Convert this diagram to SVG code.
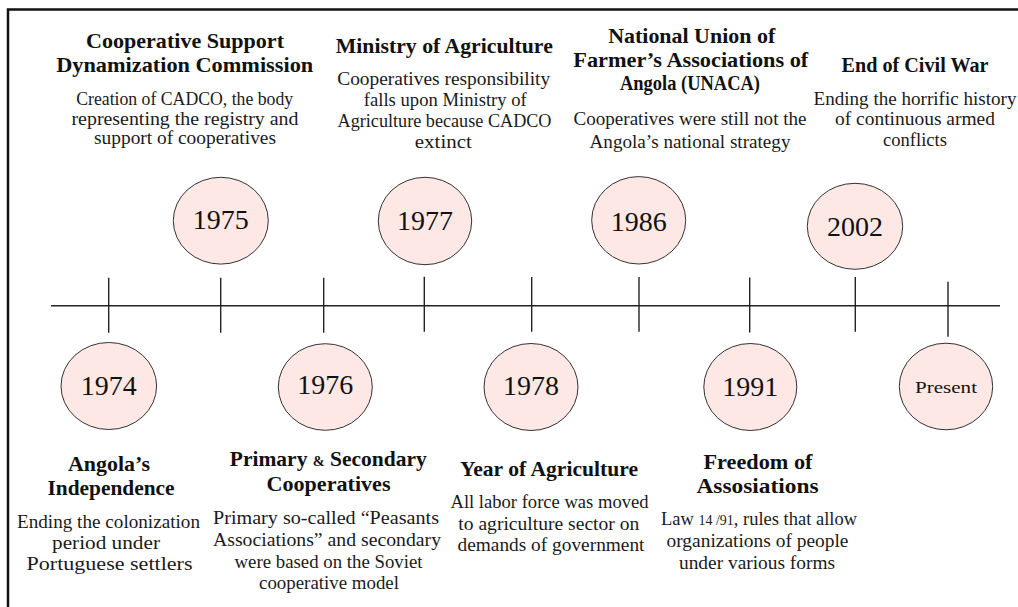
<svg xmlns="http://www.w3.org/2000/svg" width="1018" height="607" viewBox="0 0 1018 607">
<style>
  .bg { fill: #ffffff; }
  .frame { stroke: #111; stroke-width: 2.5; fill: none; }
  .axis { stroke: #222; stroke-width: 1.4; fill: none; }
  .tick { stroke: #222; stroke-width: 1.4; }
  .bubble { fill: #fde8e6; stroke: #333; stroke-width: 1; }
  .year { font-family: "Liberation Serif", "Times New Roman", serif; font-size: 28px; fill: #111; text-anchor: middle; }
  .head { font-family: "Liberation Serif", "Times New Roman", serif; font-size: 21px; font-weight: bold; fill: #111; text-anchor: middle; }
  .body { font-family: "Liberation Serif", "Times New Roman", serif; font-size: 18.5px; fill: #1a1a1a; text-anchor: middle; }
  .small { font-size: 14px; }
</style>
<rect class="bg" x="0" y="0" width="1018" height="607"/>
<path class="frame" d="M8 607 V9.5 H1018"/>

<g id="connectors">
  <line class="axis" x1="51" y1="305.7" x2="1000" y2="305.7"/>
  <line class="tick" x1="108.7" y1="277.7" x2="108.7" y2="332.7"/>
  <line class="tick" x1="220.7" y1="277.7" x2="220.7" y2="332.7"/>
  <line class="tick" x1="323.7" y1="277.7" x2="323.7" y2="332.7"/>
  <line class="tick" x1="424.3" y1="276.7" x2="424.3" y2="331.7"/>
  <line class="tick" x1="531.7" y1="277" x2="531.7" y2="331.7"/>
  <line class="tick" x1="639" y1="277" x2="639" y2="331.7"/>
  <line class="tick" x1="749.7" y1="277.5" x2="749.7" y2="332.5"/>
  <line class="tick" x1="855.3" y1="277" x2="855.3" y2="331.7"/>
  <line class="tick" x1="948" y1="281.7" x2="948" y2="336.7"/>
</g>

<g id="node-1974">
  <ellipse class="bubble" cx="108.8" cy="386" rx="47.8" ry="43.5"/>
  <text class="year" x="108.8" y="395">1974</text>
  <text class="head" x="109" y="470.5" textLength="82" lengthAdjust="spacingAndGlyphs">Angola’s</text>
  <text class="head" x="111" y="494.5" textLength="127" lengthAdjust="spacingAndGlyphs">Independence</text>
  <text class="body" x="108.5" y="527.5" textLength="183" lengthAdjust="spacingAndGlyphs">Ending the colonization</text>
  <text class="body" x="106" y="548.5" textLength="108" lengthAdjust="spacingAndGlyphs">period under</text>
  <text class="body" x="109.5" y="569.5" textLength="166" lengthAdjust="spacingAndGlyphs">Portuguese settlers</text>
</g>

<g id="node-1975">
  <ellipse class="bubble" cx="220.8" cy="220.7" rx="47.5" ry="43.4"/>
  <text class="year" x="220.8" y="229">1975</text>
  <text class="head" x="185" y="48" textLength="198" lengthAdjust="spacingAndGlyphs">Cooperative Support</text>
  <text class="head" x="184.7" y="71.5" textLength="257" lengthAdjust="spacingAndGlyphs">Dynamization Commission</text>
  <text class="body" x="184.7" y="105" textLength="217" lengthAdjust="spacingAndGlyphs">Creation of CADCO, the body</text>
  <text class="body" x="185" y="124.5" textLength="227" lengthAdjust="spacingAndGlyphs">representing the registry and</text>
  <text class="body" x="185" y="144" textLength="182" lengthAdjust="spacingAndGlyphs">support of cooperatives</text>
</g>

<g id="node-1976">
  <ellipse class="bubble" cx="325.3" cy="387" rx="47" ry="43.3"/>
  <text class="year" x="325.3" y="393.5">1976</text>
  <text class="head" x="328.3" y="465.5" textLength="197" lengthAdjust="spacingAndGlyphs">Primary <tspan class="small">&amp;</tspan> Secondary</text>
  <text class="head" x="328.5" y="490.5" textLength="124" lengthAdjust="spacingAndGlyphs">Cooperatives</text>
  <text class="body" x="326" y="523.5" textLength="226" lengthAdjust="spacingAndGlyphs">Primary so-called “Peasants</text>
  <text class="body" x="327" y="545.5" textLength="228" lengthAdjust="spacingAndGlyphs">Associations” and secondary</text>
  <text class="body" x="328.5" y="567.5" textLength="188" lengthAdjust="spacingAndGlyphs">were based on the Soviet</text>
  <text class="body" x="329" y="588.5" textLength="140" lengthAdjust="spacingAndGlyphs">cooperative model</text>
</g>

<g id="node-1977">
  <ellipse class="bubble" cx="425" cy="221" rx="46.7" ry="43.7"/>
  <text class="year" x="425" y="229.5">1977</text>
  <text class="head" x="444.3" y="52.5" textLength="217" lengthAdjust="spacingAndGlyphs">Ministry of Agriculture</text>
  <text class="body" x="443.7" y="84.5" textLength="213" lengthAdjust="spacingAndGlyphs">Cooperatives responsibility</text>
  <text class="body" x="445.3" y="105.5" textLength="163" lengthAdjust="spacingAndGlyphs">falls upon Ministry of</text>
  <text class="body" x="444.5" y="127" textLength="214" lengthAdjust="spacingAndGlyphs">Agriculture because CADCO</text>
  <text class="body" x="443.3" y="148" textLength="57" lengthAdjust="spacingAndGlyphs">extinct</text>
</g>

<g id="node-1978">
  <ellipse class="bubble" cx="531" cy="387" rx="47" ry="43.5"/>
  <text class="year" x="531" y="395">1978</text>
  <text class="head" x="549" y="475.5" textLength="178" lengthAdjust="spacingAndGlyphs">Year of Agriculture</text>
  <text class="body" x="549.5" y="507.5" textLength="198" lengthAdjust="spacingAndGlyphs">All labor force was moved</text>
  <text class="body" x="548.8" y="529.5" textLength="181" lengthAdjust="spacingAndGlyphs">to agriculture sector on</text>
  <text class="body" x="551" y="550.5" textLength="187" lengthAdjust="spacingAndGlyphs">demands of government</text>
</g>

<g id="node-1986">
  <ellipse class="bubble" cx="638.7" cy="220.3" rx="47" ry="43.7"/>
  <text class="year" x="638.7" y="231">1986</text>
  <text class="head" x="691.7" y="43" textLength="167" lengthAdjust="spacingAndGlyphs">National Union of</text>
  <text class="head" x="690.8" y="66.5" textLength="235" lengthAdjust="spacingAndGlyphs">Farmer’s Associations of</text>
  <text class="head" x="690" y="90" textLength="140" lengthAdjust="spacingAndGlyphs">Angola (UNACA)</text>
  <text class="body" x="690" y="125" textLength="233" lengthAdjust="spacingAndGlyphs">Cooperatives were still not the</text>
  <text class="body" x="690" y="147.5" textLength="201" lengthAdjust="spacingAndGlyphs">Angola’s national strategy</text>
</g>

<g id="node-1991">
  <ellipse class="bubble" cx="750.3" cy="387" rx="46.5" ry="43.5"/>
  <text class="year" x="750.3" y="396">1991</text>
  <text class="head" x="758" y="468.5" textLength="109" lengthAdjust="spacingAndGlyphs">Freedom of</text>
  <text class="head" x="757.5" y="492.5" textLength="122" lengthAdjust="spacingAndGlyphs">Assosiations</text>
  <text class="body" x="759" y="524.5" textLength="196" lengthAdjust="spacingAndGlyphs">Law <tspan class="small">14 /91</tspan>, rules that allow</text>
  <text class="body" x="757.5" y="546.5" textLength="182" lengthAdjust="spacingAndGlyphs">organizations of people</text>
  <text class="body" x="757" y="568.5" textLength="156" lengthAdjust="spacingAndGlyphs">under various forms</text>
</g>

<g id="node-2002">
  <ellipse class="bubble" cx="855" cy="226.3" rx="47.7" ry="43"/>
  <text class="year" x="855" y="236">2002</text>
  <text class="head" x="915" y="71.5" textLength="147" lengthAdjust="spacingAndGlyphs">End of Civil War</text>
  <text class="body" x="915" y="104.5" textLength="203" lengthAdjust="spacingAndGlyphs">Ending the horrific history</text>
  <text class="body" x="915" y="124.5" textLength="160" lengthAdjust="spacingAndGlyphs">of continuous armed</text>
  <text class="body" x="915" y="146" textLength="64" lengthAdjust="spacingAndGlyphs">conflicts</text>
</g>

<g id="node-present">
  <ellipse class="bubble" cx="946" cy="386.5" rx="46.7" ry="43.3"/>
  <text class="year" x="946" y="393.3" style="font-size:17.5px" textLength="62" lengthAdjust="spacingAndGlyphs">Present</text>
</g>
</svg>
